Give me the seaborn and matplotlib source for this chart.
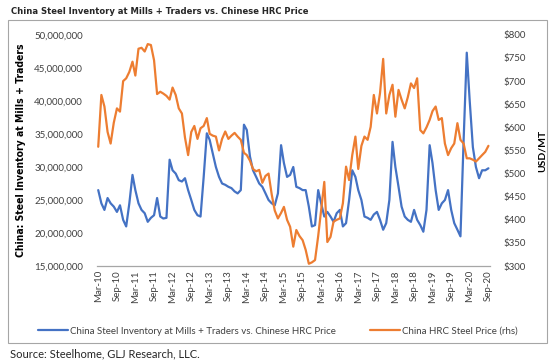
import matplotlib
matplotlib.use("Agg")
import matplotlib.pyplot as plt
import matplotlib.dates as mdates
from matplotlib import font_manager
from matplotlib.ticker import FuncFormatter
from matplotlib.patches import Rectangle
import seaborn as sns
import pandas as pd

# monthly readings, Mar-10 .. Sep-20
start_month = "2010-03-01"

inventory_mn = [
    26.5, 24.5, 23.5, 25.3, 24.5, 24.0, 23.2, 24.2, 22.0, 21.0,
    24.5, 28.8, 26.5, 24.5, 23.5, 23.0, 21.7, 22.3, 22.7, 25.3,
    22.5, 22.2, 22.3, 31.1, 29.5, 29.0, 28.0, 27.8, 28.3, 26.5,
    25.0, 23.5, 22.7, 22.5, 28.5, 35.1, 34.1, 32.0, 30.0, 28.5,
    27.5, 27.3, 27.0, 26.8, 26.3, 26.0, 26.5, 36.4, 35.6, 31.6,
    29.5, 28.5, 27.5, 27.0, 26.0, 25.0, 24.5, 24.2, 26.0, 33.3,
    30.6, 28.5, 28.8, 30.0, 27.0, 26.8, 26.5, 26.5, 24.0, 21.0,
    21.2, 26.5, 24.5, 22.5, 23.2, 22.5, 21.7, 23.0, 23.5, 21.0,
    21.5, 25.0, 29.5, 28.5, 26.5, 25.0, 22.5, 22.3, 22.0, 22.8,
    23.2, 22.0, 20.5, 21.5, 25.0, 33.8, 30.0, 27.0, 24.0, 22.5,
    22.0, 21.7, 23.5, 22.0, 21.2, 20.2, 23.5, 33.3, 30.6, 26.5,
    23.5, 24.5, 25.0, 26.5, 23.5, 21.5, 20.5, 19.5, 34.0, 47.3,
    40.0, 33.0, 30.0, 28.3, 29.5, 29.5, 29.8,
]

hrc_price = [
    558, 670, 645, 590, 565, 610, 641, 634, 700, 706,
    720, 742, 712, 770, 772, 764, 780, 778, 745, 672,
    677, 673, 668, 660, 686, 670, 641, 630, 578, 540,
    590, 603, 575, 598, 603, 620, 586, 582, 580, 550,
    575, 591, 575, 582, 588, 580, 573, 545, 540, 528,
    510, 505, 508, 480, 495, 500, 455, 420, 403, 415,
    428, 400, 385, 342, 378, 365, 356, 335, 305, 308,
    313, 365, 421, 482, 352, 363, 396, 400, 403, 436,
    515, 486, 540, 580, 510, 560, 580, 573, 601, 670,
    630, 674, 748, 630, 670, 692, 623, 681, 660, 641,
    665, 695, 685, 706, 594, 587, 600, 616, 635, 645,
    616, 620, 565, 540, 555, 565, 609, 573, 565, 533,
    533, 530, 526, 533, 540, 547, 560,
]

title = "China Steel Inventory at Mills + Traders vs. Chinese HRC Price"
left_label = "China: Steel Inventory at Mills + Traders"
inv_label = "China Steel Inventory at Mills + Traders vs. Chinese HRC Price"
price_label = "China HRC Steel Price (rhs)"
source = "Source: Steelhome, GLJ Research, LLC."

dates = pd.date_range(start_month, periods=len(hrc_price), freq="MS")
df = pd.DataFrame({"date": dates,
                   "inventory": [v * 1e6 for v in inventory_mn],
                   "price": hrc_price})

sns.set_theme(style="white")
plt.rcParams["font.family"] = ["Lato", "DejaVu Sans"]

# look for a narrow bold face for the title (Arial Narrow look)
narrow = None
for f in font_manager.fontManager.ttflist:
    if "Narrow" in f.name or "Condensed" in f.name or f.stretch in ("condensed", "semi-condensed", 625, 750):
        narrow = f
        break
if narrow is not None:
    head_font = dict(family=[narrow.name, "DejaVu Sans"], stretch=narrow.stretch)
else:
    head_font = dict(family=["Roboto", "DejaVu Sans"])

blue = "#4472C4"
orange = "#ED7D31"
grey_text = "#404040"

fig = plt.figure(figsize=(5.5, 3.63), dpi=100)
ax = fig.add_axes([0.176, 0.267, 0.715, 0.637])
ax2 = ax.twinx()

sns.lineplot(data=df, x="date", y="inventory", ax=ax, color=blue, lw=1.6, label=inv_label, legend=False)
sns.lineplot(data=df, x="date", y="price", ax=ax2, color=orange, lw=1.6, label=price_label, legend=False)

ax.set_ylim(15e6, 50e6)
ax.set_yticks([15e6 + i * 5e6 for i in range(8)])
ax.yaxis.set_major_formatter(FuncFormatter(lambda v, p: f"{v:,.0f}"))
ax2.set_ylim(300, 800)
ax2.set_yticks(range(300, 801, 50))
ax2.yaxis.set_major_formatter(FuncFormatter(lambda v, p: f"${v:.0f}"))

ax.set_xlim(dates[0] - pd.Timedelta(days=14), dates[-1] + pd.Timedelta(days=16))
ax.xaxis.set_major_locator(mdates.MonthLocator(bymonth=[3, 9]))
ax.xaxis.set_major_formatter(mdates.DateFormatter("%b-%y"))
ax.tick_params(axis="x", labelrotation=90, labelsize=7, colors=grey_text, pad=3, length=0)
ax.tick_params(axis="y", labelsize=7, colors=grey_text, pad=10, length=0)
ax2.tick_params(axis="y", labelsize=7, colors=grey_text, pad=10, length=0)

for a in (ax, ax2):
    for s in a.spines.values():
        s.set_visible(False)
ax.spines["bottom"].set_visible(True)
ax.spines["bottom"].set_color("#A6A6A6")
ax.spines["bottom"].set_linewidth(0.9)

ax.set_xlabel("")
ylab = ax.set_ylabel(left_label, fontsize=10, fontweight="bold", color="black", labelpad=6, **head_font)
ax2.set_ylabel("USD/MT", fontsize=7.5, fontweight="bold", color="black", labelpad=8)

h1, l1 = ax.get_legend_handles_labels()
h2, l2 = ax2.get_legend_handles_labels()
fig.legend(h1 + h2, l1 + l2, loc="center", bbox_to_anchor=(0.506, 0.088), ncol=2,
           frameon=False, fontsize=7, handlelength=3, columnspacing=3.5, handletextpad=0.3,
           labelcolor=grey_text)

ttl = fig.text(0.02, 0.967, title, fontsize=10, fontweight="bold",
               ha="left", va="center", **head_font)
fig.text(0.018, 0.026, source, fontsize=8, ha="left", va="center")

# shrink the headings so they take the same room as in the source chart
fig.canvas.draw()
r = fig.canvas.get_renderer()
w = ttl.get_window_extent(r).width
if w > 295:
    ttl.set_fontsize(10 * 295 / w)
h = ylab.get_window_extent(r).height
if h > 212:
    ylab.set_fontsize(10 * 212 / h)

fig.patches.append(Rectangle((8 / 550, 1 - 343 / 363), 539 / 550, 323 / 363,
                             transform=fig.transFigure, fill=False,
                             edgecolor="#A6A6A6", lw=0.8))

fig.savefig("out.png", dpi=100)
